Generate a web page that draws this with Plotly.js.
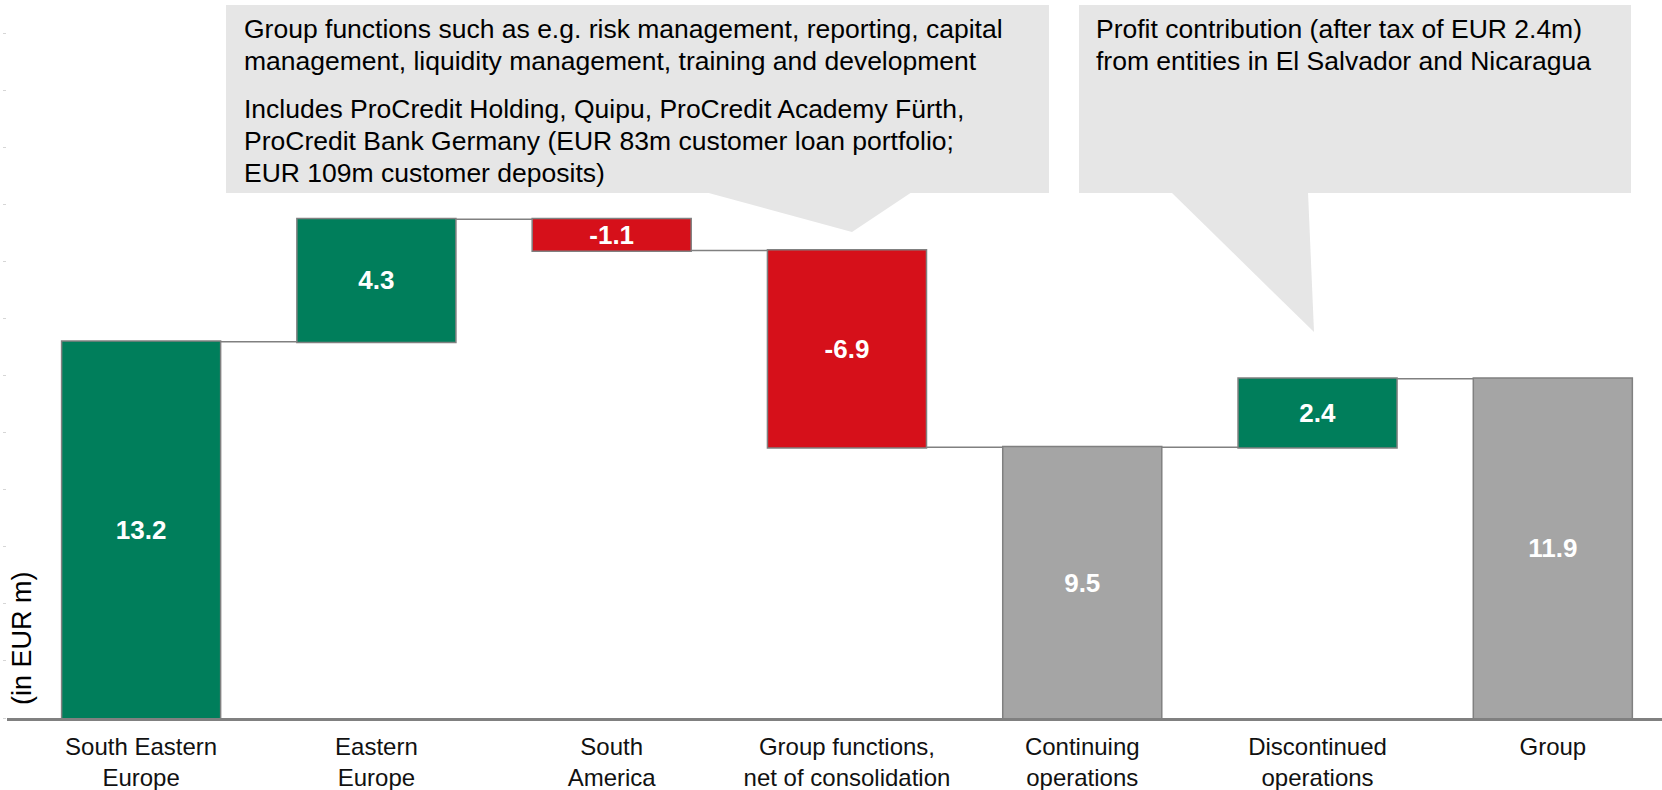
<!DOCTYPE html>
<html>
<head>
<meta charset="utf-8">
<script src="https://cdn.plot.ly/plotly-3.0.1.min.js"></script>
<style>body{margin:0;background:#fff}</style>
</head>
<body>
<div id="chart" style="width:1662px;height:790px"></div>
<script>
var categories = ['South Eastern<br>Europe', 'Eastern<br>Europe', 'South<br>America',
  'Group functions,<br>net of consolidation', 'Continuing<br>operations',
  'Discontinued<br>operations', 'Group'];
var values = [13.2, 4.3, -1.1, -6.9, 0, 2.4, 0];
var measures = ['relative', 'relative', 'relative', 'relative', 'total', 'relative', 'total'];

var leftNote = [
  'Group functions such as e.g. risk management, reporting, capital',
  'management, liquidity management, training and development',
  'Includes ProCredit Holding, Quipu, ProCredit Academy Fürth,',
  'ProCredit Bank Germany (EUR 83m customer loan portfolio;',
  'EUR 109m customer deposits)'
];
var rightNote = [
  'Profit contribution (after tax of EUR 2.4m)',
  'from entities in El Salvador and Nicaragua'
];

// bar labels: relative steps show the step, totals show the running sum
var labels = [];
var run = 0;
for (var i = 0; i < values.length; i++) {
  if (measures[i] == 'total') {
    labels.push(run.toFixed(1));
  } else {
    run += values[i];
    labels.push(values[i].toFixed(1));
  }
}

var green = '#007E5B';
var red = '#D6101A';
var grey = '#A5A5A5';
var edge = '#808080';
var font = 'Liberation Sans, Arial, sans-serif';
var noteSize = 26.5;

// page pixels -> paper coords (plot area: x 7..1662, y 0..718)
var W = 1655, H = 718;
function px(x) { return (x - 7) / W; }
function py(y) { return (H - y) / H; }

var trace = {
  type: 'waterfall',
  x: categories,
  y: values,
  measure: measures,
  text: labels,
  textposition: 'inside',
  insidetextanchor: 'middle',
  constraintext: 'none',
  textfont: {family: font, size: 26, color: '#ffffff', weight: 700},
  increasing: {marker: {color: green, line: {color: edge, width: 1.5}}},
  decreasing: {marker: {color: red, line: {color: edge, width: 1.5}}},
  totals: {marker: {color: grey, line: {color: edge, width: 1.5}}},
  connector: {mode: 'between', line: {color: edge, width: 1.5}},
  hoverinfo: 'skip',
  cliponaxis: false
};

var annotations = [];
var leftBase = [38, 70, 118, 150, 182];
for (var i = 0; i < leftNote.length; i++) {
  annotations.push({
    xref: 'paper', yref: 'paper', x: px(242), y: py(leftBase[i] - 9),
    xanchor: 'left', yanchor: 'middle', showarrow: false,
    text: leftNote[i], font: {family: font, size: noteSize, color: '#000000'}
  });
}
var rightBase = [38, 70];
for (var i = 0; i < rightNote.length; i++) {
  annotations.push({
    xref: 'paper', yref: 'paper', x: px(1094), y: py(rightBase[i] - 9),
    xanchor: 'left', yanchor: 'middle', showarrow: false,
    text: rightNote[i], font: {family: font, size: noteSize, color: '#000000'}
  });
}
annotations.push({
  xref: 'paper', yref: 'paper', x: px(22), y: py(638),
  xanchor: 'center', yanchor: 'middle', showarrow: false, textangle: -90,
  text: '(in EUR m)', font: {family: font, size: 27, color: '#000000'}
});

var boxFill = '#E6E6E6';
var shapes = [
  {type: 'rect', xref: 'paper', yref: 'paper', x0: px(226), x1: px(1049), y0: py(193), y1: py(5),
   fillcolor: boxFill, line: {width: 0}},
  {type: 'path', xref: 'paper', yref: 'paper',
   path: 'M' + px(705) + ',' + py(192) + ' L' + px(852) + ',' + py(232) + ' L' + px(912) + ',' + py(192) + ' Z',
   fillcolor: boxFill, line: {width: 0}},
  {type: 'rect', xref: 'paper', yref: 'paper', x0: px(1079), x1: px(1631), y0: py(193), y1: py(5),
   fillcolor: boxFill, line: {width: 0}},
  {type: 'path', xref: 'paper', yref: 'paper',
   path: 'M' + px(1171) + ',' + py(192) + ' L' + px(1314) + ',' + py(332) + ' L' + px(1308) + ',' + py(192) + ' Z',
   fillcolor: boxFill, line: {width: 0}}
];

var layout = {
  width: 1662,
  height: 790,
  margin: {l: 7, r: 0, t: 0, b: 72},
  paper_bgcolor: '#ffffff',
  plot_bgcolor: '#ffffff',
  showlegend: false,
  waterfallgap: 0.324,
  font: {family: font, color: '#111111'},
  xaxis: {
    type: 'category',
    range: [-0.57, 6.464],
    showgrid: false,
    zeroline: false,
    showline: true,
    linecolor: edge,
    linewidth: 3,
    ticks: '',
    ticklabelstandoff: 5,
    tickfont: {family: font, size: 24, color: '#111111'},
    fixedrange: true
  },
  yaxis: {
    range: [0, 25.19],
    showgrid: false,
    zeroline: false,
    showline: false,
    showticklabels: false,
    ticks: 'outside',
    ticklen: 3,
    tickwidth: 1,
    tickcolor: '#d6d6d6',
    dtick: 2,
    fixedrange: true
  },
  annotations: annotations,
  shapes: shapes
};

Plotly.newPlot('chart', [trace], layout, {displayModeBar: false, staticPlot: true});
</script>
</body>
</html>
